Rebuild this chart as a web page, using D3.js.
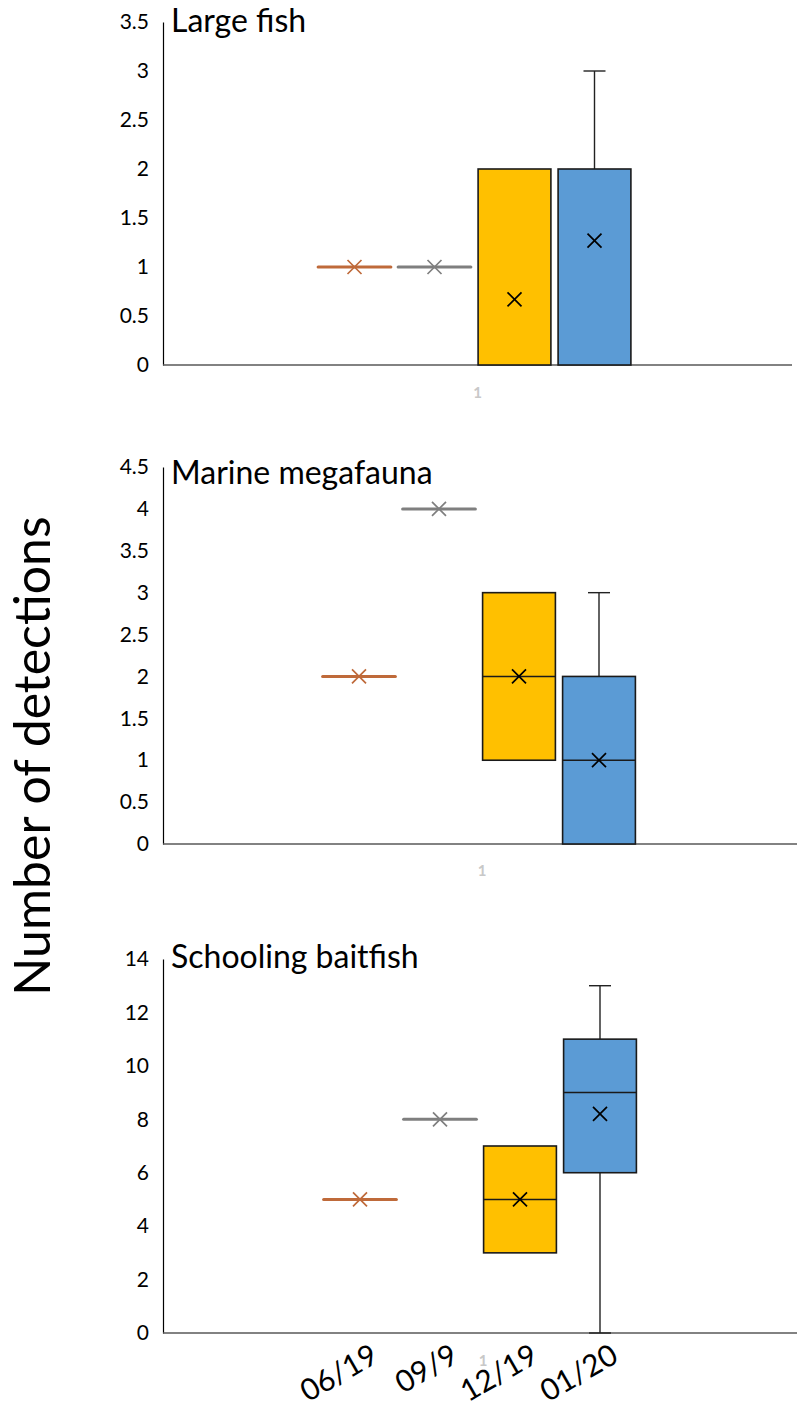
<!DOCTYPE html>
<html lang="en">
<head>
<meta charset="UTF-8">
<title>Number of detections</title>
<script src="https://d3js.org/d3.v7.min.js"></script>
<style>
    body { margin: 0; background: #fff; font-family: Lato, "Open Sans", sans-serif; }
    svg { display: block; font-family: Lato, "Open Sans", sans-serif; }
    .tick-label { font-family: Lato, "Open Sans", sans-serif; font-size: 21px; fill: #000; }
    .panel-title { font-size: 32px; fill: #000; }
    .cat-small { font-size: 15px; font-weight: bold; fill: #c8c8c8; }
    .cat-label { font-size: 30px; fill: #000; }
</style>
</head>
<body>
<div id="chart"></div>
<script>
    // --- data ---
    const categories = ["06/19", "09/9", "12/19", "01/20"];
    const seriesColors = ["#BF6A3A", "#7F7F7F", "#FFC000", "#5B9BD5"];
    const panelTitles = ["Large fish", "Marine megafauna", "Schooling baitfish"];

    // [min, q1, median, q3, max] for each category
    const largeFishStats = [[1, 1, 1, 1, 1], [1, 1, 1, 1, 1], [0, 0, 0, 2, 2], [0, 0, 2, 2, 3]];
    const largeFishMeans = [1, 1, 0.67, 1.27];
    const megafaunaStats = [[2, 2, 2, 2, 2], [4, 4, 4, 4, 4], [1, 1, 2, 3, 3], [0, 0, 1, 2, 3]];
    const megafaunaMeans = [2, 4, 2, 1];
    const baitfishStats = [[5, 5, 5, 5, 5], [8, 8, 8, 8, 8], [3, 3, 5, 7, 7], [0, 6, 9, 11, 13]];
    const baitfishMeans = [5, 8, 5, 8.2];

    const largeFishTicks = [0, 0.5, 1, 1.5, 2, 2.5, 3, 3.5];
    const megafaunaTicks = [0, 0.5, 1, 1.5, 2, 2.5, 3, 3.5, 4, 4.5];
    const baitfishTicks = [0, 2, 4, 6, 8, 10, 12, 14];

    const width = 797, height = 1407;
    const svg = d3.select("#chart").append("svg")
        .attr("width", width)
        .attr("height", height);

    // panel frames (pixels)
    const panels = [
        {stats: largeFishStats, means: largeFishMeans, ticks: largeFishTicks, left: 163, right: 792, top: 22, bottom: 365, titleY: 32, smallY: 398},
        {stats: megafaunaStats, means: megafaunaMeans, ticks: megafaunaTicks, left: 163, right: 801, top: 467, bottom: 844, titleY: 484, smallY: 876},
        {stats: baitfishStats, means: baitfishMeans, ticks: baitfishTicks, left: 163, right: 803, top: 959, bottom: 1333, titleY: 968, smallY: 1366}
    ];

    function drawX(g, cx, cy, size, color) {
        g.append("path")
            .attr("d", `M${cx - size},${cy - size}L${cx + size},${cy + size}M${cx - size},${cy + size}L${cx + size},${cy - size}`)
            .attr("stroke", color)
            .attr("stroke-width", 1.7)
            .attr("fill", "none");
    }

    panels.forEach((p, pi) => {
        const g = svg.append("g");
        const y = d3.scaleLinear()
            .domain([0, d3.max(p.ticks)])
            .range([p.bottom, p.top]);
        const center = (p.left + p.right) / 2 - 3;
        const x = d3.scaleBand()
            .domain(categories)
            .range([center - 160, center + 160])
            .paddingInner(0.09)
            .paddingOuter(0.045);

        // y axis
        const yAxis = g.append("g")
            .attr("transform", `translate(${p.left},0)`)
            .call(d3.axisLeft(y).tickValues(p.ticks).tickSize(0).tickPadding(14).tickFormat(d3.format("~g")));
        yAxis.attr("font-family", null).attr("font-size", null);
        yAxis.select(".domain").attr("stroke", "#000").attr("stroke-width", 1.2);
        yAxis.selectAll("text").attr("class", "tick-label");

        // x axis line
        g.append("line")
            .attr("x1", p.left).attr("x2", p.right)
            .attr("y1", p.bottom).attr("y2", p.bottom)
            .attr("stroke", "#595959")
            .attr("stroke-width", 1.6);

        // small category label
        g.append("text")
            .attr("class", "cat-small")
            .attr("x", (p.left + p.right) / 2)
            .attr("y", p.smallY)
            .attr("text-anchor", "middle")
            .text("1");

        // panel title
        g.append("text")
            .attr("class", "panel-title")
            .attr("x", 171)
            .attr("y", p.titleY)
            .text(panelTitles[pi]);

        // boxes
        categories.forEach((c, i) => {
            const [mn, q1, med, q3, mx] = p.stats[i];
            const bx = x(c), bw = x.bandwidth(), cx = bx + bw / 2;
            const capW = 22;
            if (q3 === q1) {
                g.append("line")
                    .attr("x1", bx).attr("x2", bx + bw)
                    .attr("y1", y(q1)).attr("y2", y(q1))
                    .attr("stroke", seriesColors[i])
                    .attr("stroke-width", 3)
                    .attr("stroke-linecap", "round");
                drawX(g, cx, y(p.means[i]), 7, seriesColors[i]);
                return;
            }
            // whiskers
            if (mx > q3) {
                g.append("line").attr("x1", cx).attr("x2", cx).attr("y1", y(q3)).attr("y2", y(mx))
                    .attr("stroke", "#222").attr("stroke-width", 1.4);
                g.append("line").attr("x1", cx - capW / 2).attr("x2", cx + capW / 2).attr("y1", y(mx)).attr("y2", y(mx))
                    .attr("stroke", "#222").attr("stroke-width", 1.4);
            }
            if (mn < q1) {
                g.append("line").attr("x1", cx).attr("x2", cx).attr("y1", y(q1)).attr("y2", y(mn))
                    .attr("stroke", "#222").attr("stroke-width", 1.4);
                g.append("line").attr("x1", cx - capW / 2).attr("x2", cx + capW / 2).attr("y1", y(mn)).attr("y2", y(mn))
                    .attr("stroke", "#222").attr("stroke-width", 1.4);
            }
            g.append("rect")
                .attr("x", bx).attr("width", bw)
                .attr("y", y(q3)).attr("height", y(q1) - y(q3))
                .attr("fill", seriesColors[i])
                .attr("stroke", "#1a1a1a")
                .attr("stroke-width", 1.6);
            if (med > q1 && med < q3) {
                g.append("line").attr("x1", bx).attr("x2", bx + bw).attr("y1", y(med)).attr("y2", y(med))
                    .attr("stroke", "#1a1a1a").attr("stroke-width", 1.4);
            }
            drawX(g, cx, y(p.means[i]), 7, "#000");
        });

        // rotated category labels under the last panel
        if (pi === panels.length - 1) {
            categories.forEach(c => {
                const cx = x(c) + x.bandwidth() / 2 + 20;
                g.append("text")
                    .attr("class", "cat-label")
                    .attr("text-anchor", "end")
                    .attr("transform", `translate(${cx},${p.bottom + 28}) rotate(-30)`)
                    .text(c);
            });
        }
    });

    // y axis title
    svg.append("text")
        .attr("transform", "translate(50,756) rotate(-90)")
        .attr("text-anchor", "middle")
        .style("font-size", "50px")
        .text("Number of detections");
</script>
</body>
</html>
